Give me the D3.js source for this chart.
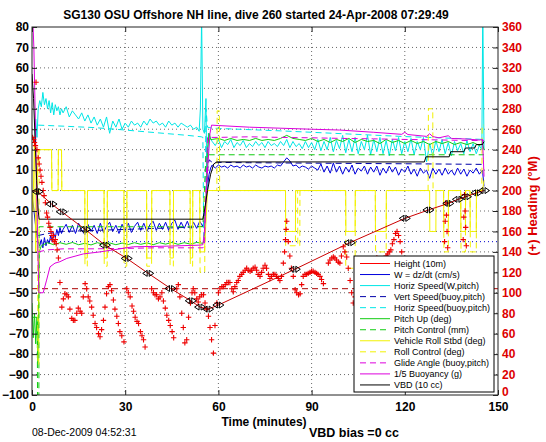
<!DOCTYPE html>
<html><head><meta charset="utf-8">
<script src="https://cdn.jsdelivr.net/npm/d3@7"></script>
<style>
body{margin:0;background:#fff}
svg{display:block}
text{font-family:"Liberation Sans",Arial,Helvetica,sans-serif}
</style></head><body>
<svg id="c" width="546" height="442"></svg>
<script>
// ---------------- data ----------------
const titleText = "SG130 OSU Offshore NH line, dive 260 started 24-Apr-2008 07:29:49";
const xLabel = "Time (minutes)";
const rightLabel = "(+) Heading (\u00B0M)";
const stampText = "08-Dec-2009 04:52:31";
const biasText = "VBD bias =0 cc";
const timeTicks = [0,30,60,90,120,150];
const leftTicks = [-100,-90,-80,-70,-60,-50,-40,-30,-20,-10,0,10,20,30,40,50,60,70,80];
const rightTicks = [0,20,40,60,80,100,120,140,160,180,200,220,240,260,280,300,320,340,360];
const legendLabels = ["Height (10m)","W = dz/dt (cm/s)","Horiz Speed(W,pitch)","Vert Speed(buoy,pitch)","Horiz Speed(buoy,pitch)","Pitch Up (deg)","Pitch Control (mm)","Vehicle Roll Stbd (deg)","Roll Control (deg)","Glide Angle (buoy,pitch)","1/5 Buoyancy (g)","VBD (10 cc)"];
const refLevels = [-48, -25]; // desired heading line (left units), target vertical speed

const heightData = [[0,0],[1.8,-0.5],[6.3,-6.6],[9.6,-10.4],[17.1,-19],[23.5,-26.7],[30.5,-33.2],[37.4,-40.5],[44.6,-47.9],[51.1,-53.9],[54.1,-57],[56.7,-58],[60,-56],[84.6,-38.5],[102.3,-25.5],[120,-13.6],[127.6,-9.5],[134,-6.3],[137.1,-4.3],[139.7,-3],[143.1,-1.1],[145.5,0]];

const wData = [[0,-2],[0.5,-8],[1,-15],[1.5,-22],[2,-25],[2.5,-27],[3,-24],[3.5,-28],[4,-23],[4.5,-27],[5,-24],[5.5,-26],[6,-22],[6.5,-25],[7,-21],[7.5,-23],[8,-19],[8.5,-22],[9,-18],[9.5,-21],[10,-19],
[11,-16.5],[12,-20.5],[13,-17],[14,-21],[15,-16],[16,-19.5],[17,-21.5],[18,-16.5],[19,-20],[20,-17],[21,-21],[22,-16],[23,-20.5],[24,-17.5],[25,-15.5],[26,-20],[27,-17],[28,-21],[29,-16.5],[30,-19.5],[31,-16],[32,-20.5],[33,-17.5],[34,-15.5],[35,-19.5],[36,-16],[37,-20],[38,-16.5],[39,-15],[40,-19.5],[41,-16],[42,-19],[43,-15.5],[44,-19.5],[45,-16],[46,-14.5],[47,-19],[48,-15.5],[49,-18.5],[50,-15],[51,-19],[52,-15.5],[53,-18.5],[54,-15],[55,-17.5],
[55.5,-14],[56,-6],[56.5,2],[57,8],[57.5,11],[58,12.5],[59,11],[60,12.5],[61,11.5],[62,12],[63,11],[64,12.5],[65,11.5],[66,12],[67,11],[68,12.5],[69,11.5],[70,12],[71,11],[72,12.5],[73,11.5],[74,11],[75,12],[76,11.5],[77,12],[78,11],[79,12.5],[80,12],[81,14],[82,16],[83,14.5],[84,12],[85,12.5],[86,11],[87,12],[88,11.5],[89,10.5],[90,12],[91,11],[92,10],[93,13],[94,9],[95,12],[96,8.5],[97,13.5],[98,9],[99,12],[100,8],[101,11.5],[102,9],[103,12.5],[104,8],[105,11],[106,9.5],[107,12],[108,8],[109,11.5],[110,9],[111,12],[112,7.5],[113,11],[114,8.5],[115,12],[116,9],[117,11.5],[118,7.5],[119,10.5],[120,9],[121,12],[122,8],[123,10.5],[124,7],[125,11],[126,8.5],[127,10],[128,6],[129,11],[130,8],[131,10.5],[132,7.5],[133,11],[134,8],[135,10],[136,7.5],[137,11],[138,8],[139,10.5],[140,7],[141,10],[142,8.5],[143,11],[144,8],[145,10],[145.5,2]];

const horizWData = [[0.8,20],[1.2,35],[1.6,26],[2,40],[2.5,44],[3,41],[3.5,48],[4,42],[4.5,45],[5,40],[5.5,44],[6,38],[6.5,43],[7,37],[7.5,42],[8,39],[8.5,41],[9,37],[9.5,40],[10,38],[11,41],[12,36],[13,39],[14,37],[15,35],[16,38],[17,34],[18,37],[19,33],[20,36],[21,32],[22,35],[23,31],[24,36],[25,28],[26,34],[27,31],[28,35],[29,30],[30,33],[31,31],[32,34],[33,32],[34,33],[35,31],[36,34],[37,32],[38,35],[39,33],[40,34],[41,32],[42,33],[43,31],[44,34],[45,32],[46,33],[47,31],[48,33],[49,32],[50,31],[51,32],[52,30],[53,31],[53.8,29],[54.2,40],[54.6,85],[55,30],[55.5,28],[56,45],[56.3,-1],[56.8,28],[57.3,26],
[58,24],[59,22],[60,25],[61,21],[62,24],[63,22.5],[64,25],[65,21],[66,23.5],[67,22],[68,24.5],[69,21],[70,23],[71,21.5],[72,24],[73,22],[74,23.5],[75,21],[76,24],[77,22],[78,23],[79,21.5],[80,24],[81,22],[82,25],[83,21],[84,24],[85,21.5],[86,23],[87,20.5],[88,24],[89,21],[90,23.5],[91,20],[92,25],[93,19.5],[94,24],[95,20],[96,26],[97,19],[98,24.5],[99,20.5],[100,27],[101,18.5],[102,25],[103,19],[104,26],[105,18],[106,24],[107,20],[108,27],[109,17.5],[110,25],[111,19],[112,26],[113,18],[114,24.5],[115,17],[116,25],[117,19.5],[118,26],[119,18],[120,24],[121,19],[122,25.5],[123,17.5],[124,24],[125,20],[126,26],[127,14],[128,23],[129,17],[130,24.5],[131,19],[132,25],[133,18],[134,23.5],[135,17],[136,24],[137,19.5],[138,23],[139,18],[140,24.5],[141,19],[142,23],[143,18],[144,22],[144.8,20],[145.1,90],[145.5,20]];

const vertBuoyData = [[2,-22],[5,-21],[10,-20],[20,-19.5],[30,-19],[40,-18.5],[50,-18],[55,-17.5],[55.5,-17],[56.5,10],[57,15],[58,13.8],[70,13.6],[90,13.4],[110,13.2],[130,13],[145.5,12.8]];

const horizBuoyData = [[2,32],[10,31.5],[20,30.8],[30,29.6],[40,28.3],[50,27],[54.5,26.3],[55,26],[55.3,-25],[55.6,-25],[56,40],[56.5,31],[58,30.5],[80,29.2],[100,27.8],[120,26.4],[145.5,25]];

const pitchData = [[0,-55],[0.4,-72],[0.8,-60],[1.2,-75],[1.6,-62],[1.9,-84],[2.3,-30],[3,-27],[5,-25.5],[7,-26.5],[9,-25.5],[11,-26.3],[13,-25.4],[15,-26.5],[17,-25.8],[19,-26.6],[21,-25.5],[23,-26.2],[25,-25.6],[27,-26.5],[29,-25.7],[31,-26.4],[33,-25.5],[35,-26.3],[37,-25.6],[39,-26.5],[41,-25.5],[43,-26.2],[45,-25.4],[47,-26.3],[49,-25.5],[51,-26.2],[53,-25.4],[55,-25.8],[55.5,-24],[56,-5],[56.5,20],[57,28],[57.5,25],
[58,25],[60,25.5],[62,24.5],[64,25.5],[66,24.5],[68,25],[70,24.5],[72,25.5],[74,24.5],[76,25],[78,24.5],[80,25.5],[82,27],[84,25.5],[86,25],[88,24.5],[90,25.5],[92,24],[94,25],[96,23.5],[98,25],[100,24],[102,25.5],[104,23.5],[106,25],[108,24],[110,24.5],[112,23],[114,25],[116,23.5],[118,24.5],[120,23],[122,24.5],[124,23],[126,24],[128,22.5],[130,24],[132,23],[134,24],[136,22.5],[138,23.5],[140,22.5],[142,23.5],[144,22],[145,23],[145.5,20]];

const pitchCtlData = [[0,-62],[1.7,-62],[1.8,-112],[2.2,-112],[2.3,-17.7],[55,-17.7],[56,17.5],[145.5,17.5]];

const rollData = [[0,0],[0.3,-10],[0.8,25],[1.2,-30],[1.6,0],[2,20],[6.3,20],[6.4,0],[8.4,0],[8.5,20],[9.5,20],[9.6,0],
[17.0,0],[17.05,-33],[17.8,-33],[17.85,0],[23.2,0],[23.25,-33],[24.2,-33],[24.25,0],[29.6,0],[29.65,-33],[30.5,-33],[30.55,0],[36.9,0],[36.95,-33],[38.5,-33],[38.55,0],[44.4,0],[44.45,-33],[45.5,-33],[45.55,0],[50.9,0],[50.95,-33],[51.7,-33],[51.75,0],[54,0],[54.05,-30],[55.5,-30],[56.5,0],
[81.6,0],[81.65,-20],[84.8,-20],[84.85,0],[101,0],[101.05,-20],[104,-20],[104.05,0],[110.5,0],[110.55,-20],[114,-20],[114.05,0],[128,0],[128.05,-20],[130,-20],[130.05,0],[132.5,0],[132.55,-20],[134,-20],[134.05,0],[138,0],[138.05,-20],[139.5,-20],[139.55,0],[141,0],[141.05,-20],[143,-20],[143.05,0],[145,0],[145.5,5]];

const rollCtlData = [[0,0],[1.8,0],[1.9,-85],[2.2,-85],[2.3,20],[6.3,20],[6.4,0],[8.4,0],[8.5,20],[9.5,20],[9.6,0],
[17.0,0],[17.05,-37],[17.8,-37],[17.85,0],[23.2,0],[23.25,-37],[24.2,-37],[24.25,0],[29.6,0],[29.65,-37],[30.5,-37],[30.55,0],[36.9,0],[36.95,-37],[38.5,-37],[38.55,0],[44.4,0],[44.45,-37],[45.5,-37],[45.55,0],[50.9,0],[50.95,-37],[51.7,-37],[51.75,0],[54,0],[54.1,-40],[55.6,-40],[55.7,0],[59.5,0],[59.6,39],[60.3,39],[60.4,0],
[81.6,0],[81.65,-27],[84.8,-27],[84.85,0],[85.5,0],[85.55,-27],[86.2,-27],[86.25,0],[100.9,0],[101,-38],[104,-38],[104.1,0],[110.5,0],[110.6,-30],[114,-30],[114.1,0],[127.5,0],[127.6,40],[129,40],[129.1,0],[132.5,0],[132.6,-30],[134,-30],[134.1,0],[138,0],[138.1,-30],[139.5,-30],[139.6,0],[141,0],[141.1,-30],[143,-30],[143.1,0],[144.8,0],[144.9,32],[145.5,32]];

const glideData = [[2,-30],[5,-29],[10,-28.5],[20,-28.5],[30,-28.3],[40,-28],[50,-28],[55,-28],[55.5,-27],[56.5,26],[60,26],[70,26.3],[80,26],[90,25.8],[100,25.5],[110,25.3],[120,25],[130,24.8],[140,24.5],[145.5,24.5]];

const buoyData = [[0,100],[0.4,78],[0.6,70],[1.0,40],[1.5,0],[1.9,-30],[2.2,-50],[3.6,-50],[4.7,-43.8],[5.8,-37.3],[7.4,-35.5],[9,-34.8],[11.2,-33.2],[16.5,-31],[21.9,-30],[32.6,-27.5],[43.4,-27.2],[54,-26.7],[55,-26.5],[55.5,-20],[56.5,10],[57.3,28],[57.8,32],[60,31.8],[70,31],[80,30.5],[90,30],[99,29.6],[110,28.5],[119,27.5],[120,28.5],[121,27.4],[127,26.5],[128,27.8],[129,26.4],[131,25.8],[134,26.8],[135,25.5],[140,25.2],[144,24.7],[145,25],[145.3,15],[145.5,6.8]];

const vbdData = [[0,57],[0.5,45],[1,25],[1.5,5],[2,-10],[2.3,-14],[55,-14],[55.5,-10],[56.5,0],[57.5,8],[58.5,13],[59.5,14],[126.3,14],[126.8,16.5],[134.3,16.5],[134.8,19],[139,19],[139.5,20.8],[142.5,20.8],[143,22.5],[145,22.5],[145.5,24]];

const headingData = [
[0.2,252],[0.5,250],[0.8,247],[1.1,244],[1.3,306],[1.6,240],[2.0,232],[2.3,226],[2.6,220],[2.9,214],[3.2,208],[3.6,200],[3.9,195],[4.3,188],[4.7,178],[5.0,174],[5.4,168],[5.8,164],[6.1,160],[6.4,156],[6.7,152],[6.9,156],[7.2,150],[7.5,152],[7.8,148],[8.1,142],[8.5,134],
[9.0,110],[9.6,86],[10.1,94],[10.6,99],[11.2,98],[11.7,96],[12.2,84],[12.8,75],[13.3,73],[13.8,73],[14.4,80],[14.9,85],[15.5,82],[16.0,80],[16.5,96],[17.1,109],[17.6,104],[18.1,96],[18.6,92],[19.2,86],[19.7,78],[20.3,70],[20.8,66],[21.4,60],[21.9,57],[22.4,64],[23.0,73],[23.5,86],[24.0,99],[24.6,106],[25.1,108],[25.6,102],[26.2,93],[26.7,84],[27.3,77],[27.8,70],[28.3,62],[28.9,58],[29.6,52],
[30.5,104],[31.0,100],[31.6,96],[32.2,87],[32.7,82],[33.2,76],[33.8,72],[34.3,70],[34.9,62],[35.4,58],[35.9,54],[36.4,47],
[38.5,104],[39.1,100],[39.6,98],[40.1,98],[40.7,94],[41.2,96],[41.8,100],[42.3,92],[42.9,85],[43.4,78],[44.0,73],[44.5,68],[45.1,62],[45.6,56],
[46.6,104],[47.1,108],[47.6,96],[48.2,80],[48.7,66],[49.2,51],[49.8,54],
[50.4,76],[51.0,90],[51.5,100],[51.9,104],[52.4,100],[53.0,94],[53.5,91],[54.0,96],[54.6,98],[55.2,98],[55.7,90],[56.2,84],[56.8,77],[57.3,66],[57.8,54],[58.4,41],[58.9,68],[59.5,90],[60.0,100],
[60.5,104],[61.1,106],[61.6,106],[62.2,108],[62.7,110],[63.2,110],[63.7,110],[64.3,104],[64.8,101],[65.3,106],[65.9,110],[66.4,112],[66.9,116],[67.5,118],[68.0,120],[68.6,122],[69.1,124],[69.6,122],[70.2,121],[70.7,122],[71.2,124],[71.8,125],[72.3,122],[72.8,118],[73.4,116],[73.9,120],[74.4,124],[75.0,127],[75.5,124],[76.1,118],[76.6,114],[77.1,116],[77.7,118],[78.2,118],[78.7,116],[79.3,114],[79.8,112],[80.3,116],[80.9,129],[81.3,140],[81.6,152],[81.8,162],[82.0,170],[82.5,150],[83.0,136],[83.5,124],[84.1,116],[84.7,103],[85.2,100],[85.8,98],[86.3,99],[86.8,108],[87.3,116],[87.9,118],[88.4,118],[88.9,119],[89.5,120],[90.0,121],[90.5,121],[91.1,120],[91.6,119],[92.1,118],[92.7,116],[93.2,113],[93.8,109],
[95.4,129],[95.9,132],[96.5,134],[97.0,135],[97.5,134],[98.0,132],[98.6,130],[99.1,129],[99.6,136],[100.2,145],[100.7,140],[101.3,135],[101.8,124],[102.4,112],[102.9,100],[103.4,90],
[104.0,96],[104.5,104],[105.0,112],[105.5,118],[106.0,124],[106.5,128],[107.0,132],[107.5,130],[108.0,126],[108.5,122],[109.0,120],[109.5,124],[110.0,128],[110.5,132],[111.0,134],[111.5,130],[112.0,126],[112.5,124],[113.0,128],[113.5,132],[114.0,136],[114.5,138],[115.0,140],[115.5,142],[116.0,148],[116.5,152],[117.0,158],[117.5,160],[118.0,156],[118.5,150],[119.0,140],[119.5,130],[120.0,122],[120.5,116],[121.0,112],[121.5,108],[122.0,106],[123.0,110],[124.0,114],[125.0,112],[126.0,108],[127.0,106],[128.0,110],[129.0,112],[130.0,108],[131.0,106],[132.0,112],[132.5,130],[132.8,150],[133.0,170],[133.2,188],[133.4,176],[133.6,160],[133.8,144],[134.0,128],[134.5,112],[135.0,108],[136.0,110],[137.0,108],[138.0,112],[138.5,130],[138.8,152],[139.0,174],[139.2,196],[139.4,180],[139.6,164],[139.8,146],[140.0,128],[141.0,110],[142.0,108],[143.0,112],[144.0,110],[145.0,108]];

// ---------------- drawing ----------------
const svg = d3.select("#c");
const L = 32, R = 498, T = 27, B = 395;
const x = d3.scaleLinear().domain([0,150]).range([L,R]);
const yL = d3.scaleLinear().domain([-100,80]).range([B,T]);
const yR = d3.scaleLinear().domain([0,360]).range([B,T]);
const FONT = '"Liberation Sans",Arial,Helvetica,sans-serif';

svg.append("rect").attr("width",546).attr("height",442).attr("fill","#fff");
svg.append("defs").append("clipPath").attr("id","clip")
  .append("rect").attr("x",L).attr("y",T).attr("width",R-L).attr("height",B-T);

// grid
const grid = svg.append("g").attr("stroke","#444").attr("stroke-width",0.8).attr("stroke-dasharray","1,3");
timeTicks.filter(t=>t>0&&t<150).forEach(t=>grid.append("line").attr("x1",x(t)).attr("x2",x(t)).attr("y1",T).attr("y2",B));
leftTicks.filter(v=>v>-100&&v<80).forEach(v=>grid.append("line").attr("x1",L).attr("x2",R).attr("y1",yL(v)).attr("y2",yL(v)));

const plot = svg.append("g").attr("clip-path","url(#clip)");
const line = d3.line().x(d=>x(d[0])).y(d=>yL(d[1]));

const styles = [
  {data: heightData,  color:"#ff0000", dash:null},
  {data: wData,       color:"#0000dd", dash:null},
  {data: horizWData,  color:"#00e6e6", dash:null},
  {data: vertBuoyData,color:"#0000aa", dash:"6,4"},
  {data: horizBuoyData,color:"#00e6e6", dash:"6,4"},
  {data: pitchData,   color:"#11cc11", dash:null},
  {data: pitchCtlData,color:"#11cc11", dash:"6,4"},
  {data: rollData,    color:"#f2f200", dash:null},
  {data: rollCtlData, color:"#f2f200", dash:"6,4"},
  {data: glideData,   color:"#dd00dd", dash:"6,4"},
  {data: buoyData,    color:"#dd00dd", dash:null},
  {data: vbdData,     color:"#000000", dash:null}
];

// reference lines
plot.append("line").attr("x1",L).attr("x2",R).attr("y1",yL(refLevels[0])).attr("y2",yL(refLevels[0]))
  .attr("stroke","#aa0000").attr("stroke-width",1).attr("stroke-dasharray","6,4");
plot.append("line").attr("x1",L).attr("x2",R).attr("y1",yL(refLevels[1])).attr("y2",yL(refLevels[1]))
  .attr("stroke","#0000cc").attr("stroke-width",1).attr("stroke-dasharray","1,3");

// series (height drawn last)
styles.slice(1).forEach(s=>{
  plot.append("path").datum(s.data).attr("d",line).attr("fill","none")
    .attr("stroke",s.color).attr("stroke-width",1).attr("stroke-dasharray",s.dash);
});

// heading markers on right axis
const hg = plot.append("g").attr("stroke","#ee0000").attr("stroke-width",1.1);
headingData.forEach(d=>{
  const cx = x(d[0]), cy = yR(d[1]);
  hg.append("path").attr("d",`M${cx-2.7},${cy}H${cx+2.7}M${cx},${cy-2.7}V${cy+2.7}`);
});

// height line + markers
plot.append("path").datum(heightData).attr("d",line).attr("fill","none")
  .attr("stroke","#cc0000").attr("stroke-width",1);
const mg = plot.append("g").attr("fill","none").attr("stroke","#000").attr("stroke-width",1);
heightData.forEach((d,i)=>{
  if(i===0) return;
  const cx = x(d[0]), cy = yL(d[1]);
  mg.append("path").attr("d",`M${cx-5.5},${cy}L${cx-1},${cy-3}L${cx-1},${cy+3}Z`);
  mg.append("path").attr("d",`M${cx+5.5},${cy}L${cx+1},${cy-3}L${cx+1},${cy+3}Z`);
});

// axes
const axStyle = g=>{
  g.select(".domain").remove();
  g.selectAll("line").attr("stroke","#222");
  g.selectAll("text").attr("font-family",FONT).attr("font-weight","bold").attr("font-size",12);
};
svg.append("g").attr("transform",`translate(0,${B})`)
  .call(d3.axisBottom(x).tickValues(timeTicks).tickSize(-5).tickPadding(7).tickSizeOuter(0)).call(axStyle)
  .selectAll("text").attr("fill","#000");
svg.append("g").attr("transform",`translate(0,${T})`)
  .call(d3.axisTop(x).tickValues(timeTicks).tickSize(-5).tickFormat("").tickSizeOuter(0)).call(axStyle);
svg.append("g").attr("transform",`translate(${L},0)`)
  .call(d3.axisLeft(yL).tickValues(leftTicks).tickSize(-5).tickPadding(3).tickSizeOuter(0)).call(axStyle)
  .selectAll("text").attr("fill","#000");
const rAx = svg.append("g").attr("transform",`translate(${R},0)`)
  .call(d3.axisRight(yR).tickValues(rightTicks).tickSize(-5).tickPadding(4).tickSizeOuter(0)).call(axStyle);
rAx.selectAll("text").attr("fill","#dd0000");
rAx.selectAll("text").filter(d=>d===0).attr("y",-3);

// box
svg.append("rect").attr("x",L).attr("y",T).attr("width",R-L).attr("height",B-T)
  .attr("fill","none").attr("stroke","#222").attr("stroke-width",1);

// legend
const lg = svg.append("g");
lg.append("rect").attr("x",354).attr("y",256).attr("width",140).attr("height",136)
  .attr("fill","#fff").attr("stroke","#000").attr("stroke-width",1);
const legendColors = ["#ff0000"].concat(styles.slice(1).map(s=>s.color));
legendLabels.forEach((lab,i)=>{
  const yy = 263.5 + i*11.04;
  const s = styles[i];
  lg.append("line").attr("x1",360).attr("x2",390).attr("y1",yy).attr("y2",yy)
    .attr("stroke",legendColors[i]).attr("stroke-width",1).attr("stroke-dasharray",s.dash);
  lg.append("text").attr("x",394).attr("y",yy+3.2).attr("font-size",9).attr("font-family",FONT)
    .attr("fill","#000").text(lab);
});

// texts
svg.append("text").attr("x",256).attr("y",19).attr("text-anchor","middle")
  .attr("font-size",12).attr("font-weight","bold").text(titleText);
svg.append("text").attr("x",264).attr("y",425.5).attr("text-anchor","middle")
  .attr("font-size",12).attr("font-weight","bold").text(xLabel);
svg.append("text").attr("x",309).attr("y",436.5)
  .attr("font-size",12.5).attr("font-weight","bold").text(biasText);
svg.append("text").attr("x",32).attr("y",435.5)
  .attr("font-size",10.5).text(stampText);
svg.append("text").attr("transform","translate(537,206) rotate(-90)").attr("text-anchor","middle")
  .attr("font-size",13).attr("font-weight","bold").attr("fill","#dd0000").text(rightLabel);
</script>
</body></html>
